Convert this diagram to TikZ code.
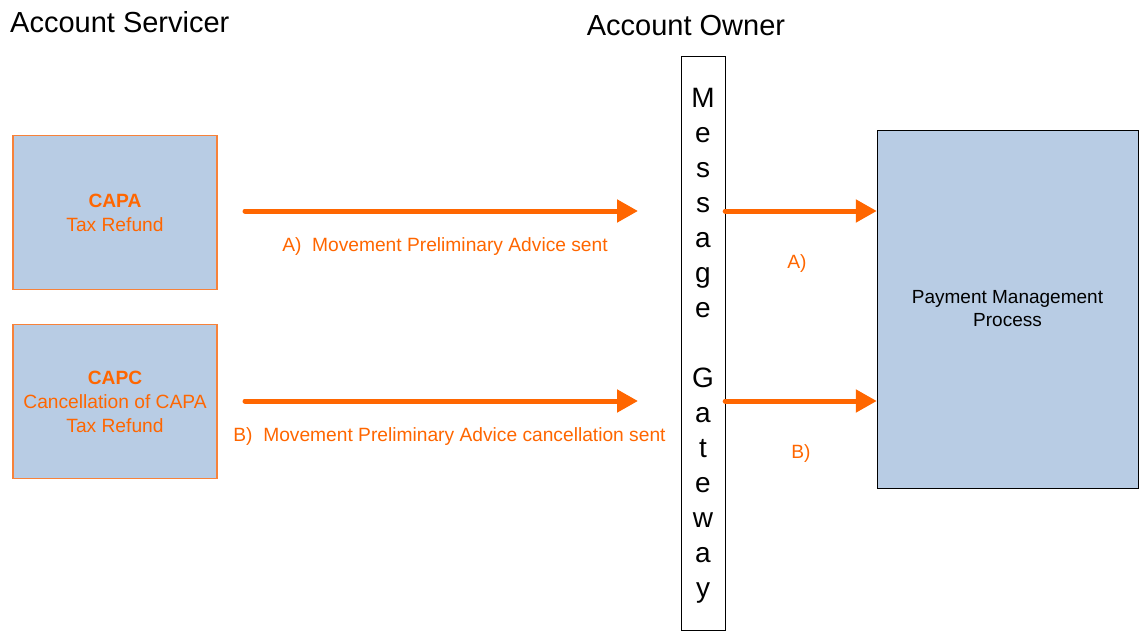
\documentclass[tikz,border=0pt]{standalone}
\usepackage{fontspec}
\setmainfont{Liberation Sans}
\usetikzlibrary{arrows.meta}
\definecolor{boxblue}{HTML}{B8CCE4}
\definecolor{msgorange}{HTML}{FF6600}
\definecolor{edgeorange}{HTML}{F7823A}
\newcommand*{\labelsize}{\fontsize{19.2}{24}\selectfont}

\begin{document}
\begin{tikzpicture}[x=1pt, y=-1pt]
      \useasboundingbox (0,0) rectangle (1144,634);
      \tikzstyle{msg}=[draw=msgorange, line width=5pt, line cap=round,
        -{Triangle[length=21pt, width=22pt]}]
      \tikzstyle{txt}=[font=\labelsize, text=msgorange, inner sep=0pt]

      \node[anchor=west, inner sep=0pt, font=\fontsize{29}{34}\selectfont] (servicer) at (10, 22) {Account Servicer};
      \node[inner sep=0pt, font=\fontsize{29}{34}\selectfont] (owner) at (686, 26) {Account Owner};

      {\tikzstyle{every node}=[draw=edgeorange, line width=1.3pt, fill=boxblue, minimum width=204pt,
          minimum height=154pt, align=center, font=\labelsize, text=msgorange]
        \node (capa) at (115, 212.5) {\textbf{CAPA}\\Tax Refund};
        \node (capc) at (115, 401.5) {\textbf{CAPC}\\Cancellation of CAPA\\Tax Refund};
      }

      \node[draw, fill=white, minimum width=44pt, minimum height=574pt] (gateway) at (703, 343) {};
      {\tikzstyle{every node}=[anchor=base, font=\fontsize{28}{28}\selectfont]
        \foreach \ch [count=\i] in {M, e, s, s, a, g, e}
        {
          \node (m\i) at (703, {107+(\i-1)*35}) {\ch};
        }
        \foreach \ch [count=\i] in {G, a, t, e, w, a, y}
        {
          \node (g\i) at (703, {387+(\i-1)*35}) {\ch};
        }
      }

      \node[draw, fill=boxblue, minimum width=261pt, minimum height=358pt, align=center,
        font=\fontsize{19}{23}\selectfont] (payment) at (1007.5, 309) {Payment Management\\Process};

      \coordinate (sa) at (245, 211);
      \coordinate (ea) at (638, 211);
      \coordinate (sb) at (245, 401);
      \coordinate (eb) at (638, 401);

      \draw[msg] (sa) -- (ea);
      \draw[msg] (sb) -- (eb);
      \draw[msg] (gateway.east |- sa) -- (payment.west |- sa);
      \draw[msg] (gateway.east |- sb) -- (payment.west |- sb);

      \node[txt] (lbla) at (445, 247) {A)\ \ Movement Preliminary Advice sent};
      \node[txt] (lblb) at (449.5, 437) {B)\ \ Movement Preliminary Advice cancellation sent};
      \node[txt] (lbla2) at (797, 264) {A)};
      \node[txt] (lblb2) at (801, 454) {B)};
    \end{tikzpicture}
\end{document}
